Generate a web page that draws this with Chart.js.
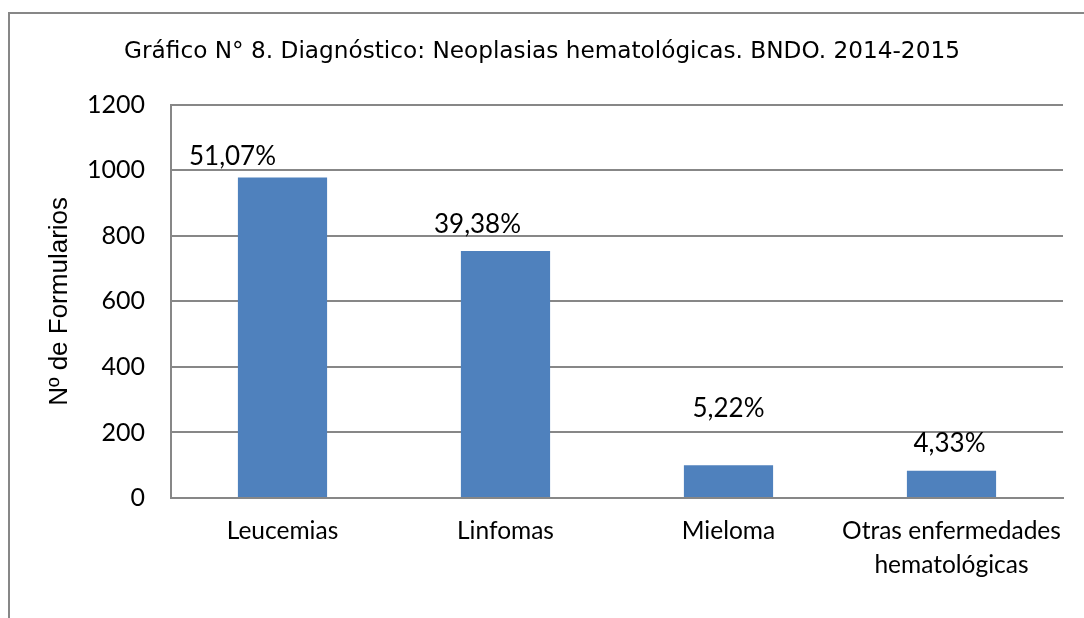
<!DOCTYPE html>
<html>
<head>
<meta charset="utf-8">
<script src="https://cdn.jsdelivr.net/npm/chart.js@4"></script>
<style>
  html, body { margin: 0; padding: 0; background: #fff; }
  #wrap { width: 1084px; height: 618px; }
</style>
</head>
<body>
<div id="wrap"><canvas id="grafico8"></canvas></div>
<script>
let categorias = ['Leucemias', 'Linfomas', 'Mieloma', ['Otras enfermedades', 'hematológicas']];
let formularios = [978, 754, 100, 83];
let porcentajes = ['51,07%', '39,38%', '5,22%', '4,33%'];
let ticksY = [0, 200, 400, 600, 800, 1000, 1200];

// where each percentage sits relative to the top of its bar (as in the original)
let desplaz = [[-50, -21], [-28, -26], [0, -57], [-2, -27]];

let gris = '#878787';

let marco = {
    id: 'marco',
    beforeDraw(chart) {
        let ctx = chart.ctx;
        ctx.save();
        ctx.strokeStyle = gris;
        ctx.lineWidth = 2;
        ctx.beginPath();
        ctx.moveTo(9, 618);
        ctx.lineTo(9, 13);
        ctx.lineTo(1084, 13);
        ctx.stroke();
        ctx.restore();
    }
};

let etiquetas = {
    id: 'etiquetas',
    afterDatasetsDraw(chart) {
        let ctx = chart.ctx;
        let meta = chart.getDatasetMeta(0);
        ctx.save();
        ctx.font = '26px Lato';
        ctx.fillStyle = '#000';
        ctx.textAlign = 'center';
        ctx.textBaseline = 'middle';
        meta.data.forEach(function (bar, i) {
            ctx.fillText(porcentajes[i], bar.x + desplaz[i][0], bar.y + desplaz[i][1]);
        });
        ctx.restore();
    }
};

new Chart(document.getElementById('grafico8'), {
    type: 'bar',
    data: {
        labels: categorias,
        datasets: [
            {
                label: 'Nº de Formularios',
                data: formularios,
                backgroundColor: '#4F81BD',
                borderWidth: 0,
                barPercentage: 0.4,
                categoryPercentage: 1
            }
        ]
    },
    options: {
        responsive: true,
        maintainAspectRatio: false,
        animation: false,
        layout: { padding: 0 },
        plugins: {
            legend: { display: false },
            tooltip: { enabled: false },
            title: {
                display: true,
                text: 'Gráfico N° 8. Diagnóstico: Neoplasias hematológicas. BNDO. 2014-2015',
                color: '#000',
                font: { family: 'DejaVu Sans', size: 23.2, weight: 'normal' },
                padding: { top: 38, bottom: 39 }
            }
        },
        scales: {
            x: {
                grid: { display: false },
                border: { display: true, color: gris, width: 2 },
                ticks: {
                    color: '#000',
                    font: { family: 'Lato', size: 24.5, lineHeight: 1.35 },
                    padding: 9,
                    maxRotation: 0,
                    autoSkip: false
                },
                afterFit(s) { s.height = 120; }
            },
            y: {
                min: 0,
                max: 1200,
                afterBuildTicks(s) { s.ticks = ticksY.map(v => ({ value: v })); },
                grid: { color: gris, lineWidth: 2, drawTicks: false },
                border: { display: true, color: gris, width: 2 },
                ticks: {
                    color: '#000',
                    font: { family: 'Lato', size: 25 },
                    padding: 26,
                    callback: v => String(v)
                },
                title: {
                    display: true,
                    text: 'Nº de Formularios',
                    color: '#000',
                    font: { family: 'Liberation Sans', size: 26 },
                    padding: { top: 44, bottom: 0 }
                },
                afterFit(s) { s.width = 171; }
            },
            // empty strip on the right so the plot ends where the original does
            margen: {
                position: 'right',
                grid: { display: false },
                border: { display: false },
                ticks: { display: false },
                afterFit(s) { s.width = 21; }
            }
        }
    },
    plugins: [marco, etiquetas]
});
</script>
</body>
</html>
